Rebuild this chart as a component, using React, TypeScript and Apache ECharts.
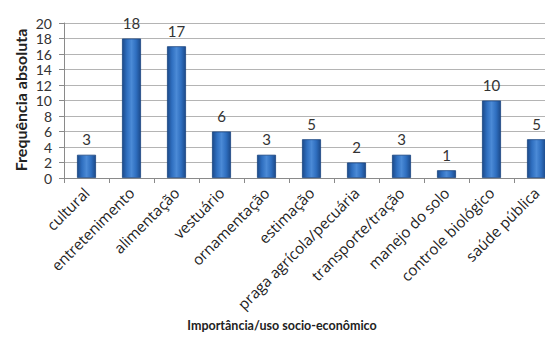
import React, { useEffect, useRef } from "react";
import * as echarts from "echarts";

const categories = [
  "cultural",
  "entretenimento",
  "alimentação",
  "vestuário",
  "ornamentação",
  "estimação",
  "praga agrícola/pecuária",
  "transporte/tração",
  "manejo do solo",
  "controle biológico",
  "saúde pública",
];
const values = [3, 18, 17, 6, 3, 5, 2, 3, 1, 10, 5];
const yTitle = "Frequência absoluta";
const xTitle = "Importância/uso socio-econômico";

const FONT = "Lato, 'Open Sans', sans-serif";

export default function App() {
  const ref = useRef<HTMLDivElement>(null);
  useEffect(() => {
    if (!ref.current) return;
    const chart = echarts.init(ref.current, undefined, { renderer: "svg" });
    const barColor = new echarts.graphic.LinearGradient(0, 0, 1, 0, [
      { offset: 0, color: "#1c4a8a" },
      { offset: 0.25, color: "#2f6fc0" },
      { offset: 0.5, color: "#4b8ad6" },
      { offset: 0.75, color: "#2f6fc0" },
      { offset: 1, color: "#1c4a8a" },
    ]);
    chart.setOption({
      animation: false,
      textStyle: { fontFamily: FONT },
      grid: { left: 64, top: 23, width: 495, height: 155, containLabel: false },
      xAxis: {
        type: "category",
        data: categories,
        axisLine: { lineStyle: { color: "#8a8a8a", width: 1 } },
        axisTick: { show: true, length: 5, lineStyle: { color: "#8a8a8a" } },
        axisLabel: {
          rotate: 45,
          interval: 0,
          fontSize: 15,
          color: "#222",
          fontFamily: "'Open Sans', sans-serif",
          margin: 12,
        },
      },
      yAxis: {
        type: "value",
        min: 0,
        max: 20,
        interval: 2,
        axisLine: { show: true, lineStyle: { color: "#8a8a8a" } },
        axisTick: { show: true, length: 5, lineStyle: { color: "#8a8a8a" } },
        axisLabel: {
          fontSize: 14,
          lineHeight: 14,
          color: "#333",
          margin: 12,
          fontFamily: FONT,
        },
        splitLine: { lineStyle: { color: "#b4b4b4", width: 1 } },
      },
      series: [
        {
          type: "bar",
          data: values,
          barWidth: 19,
          itemStyle: {
            color: barColor,
            borderColor: "#1a4580",
            borderWidth: 0.8,
          },
          label: {
            show: true,
            position: "top",
            distance: 8,
            fontSize: 15,
            color: "#333",
            fontFamily: FONT,
          },
        },
      ],
      graphic: [
        {
          type: "text",
          x: 20,
          y: 100,
          rotation: Math.PI / 2,
          style: {
            text: yTitle,
            fontSize: 16,
            fontWeight: "bold",
            fontFamily: FONT,
            fill: "#222",
            align: "center",
            verticalAlign: "middle",
          },
        },
        {
          type: "text",
          x: 282,
          y: 325,
          style: {
            text: xTitle,
            fontSize: 12.5,
            fontWeight: "bold",
            fontFamily: FONT,
            fill: "#222",
            align: "center",
            verticalAlign: "middle",
          },
        },
      ],
    });
    return () => chart.dispose();
  }, []);
  return (
    <div
      style={{
        position: "absolute",
        left: 0,
        top: 0,
        width: 545,
        height: 337,
        overflow: "hidden",
        background: "#fff",
      }}
    >
      <div ref={ref} style={{ width: 570, height: 337 }} />
    </div>
  );
}
